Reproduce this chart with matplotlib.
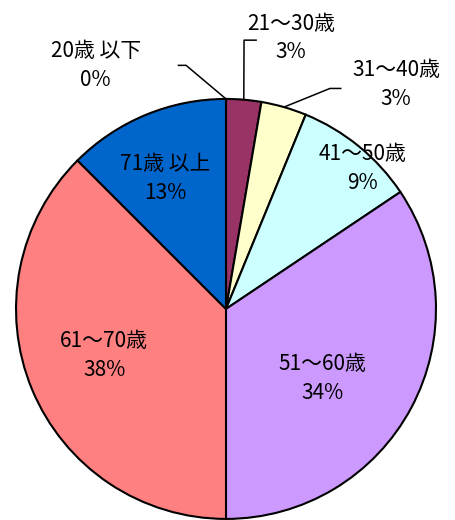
import numpy as np
import matplotlib
matplotlib.use("Agg")
import matplotlib.pyplot as plt

plt.rcParams['font.family'] = ['Noto Sans CJK JP', 'DejaVu Sans']

labels = ["20歳 以下", "21～30歳", "31～40歳", "41～50歳", "51～60歳", "61～70歳", "71歳 以上"]
values = [0.0, 2.7, 3.5, 9.4, 34.4, 37.5, 12.5]
pct_text = ["0%", "3%", "3%", "9%", "34%", "38%", "13%"]
colors = ["#FFFFFF", "#993366", "#FFFFCC", "#CCFFFF", "#CC99FF", "#FF8080", "#0066CC"]

# label centres (data units, radius = 1) and leader elbows for the outside labels
label_pos = [(-0.62, 1.16), (0.31, 1.29), (0.81, 1.07), (0.65, 0.67),
             (0.46, -0.33), (-0.58, -0.22), (-0.29, 0.62)]
elbows = {0: [(-0.19, 1.16), (-0.23, 1.16)],
          1: [(0.086, 1.28), (0.147, 1.28)],
          2: [(0.495, 1.05), (0.55, 1.05)]}

fig = plt.figure(figsize=(4.55, 5.2), dpi=100)
ax = fig.add_axes([0.0352, 0.0019, 0.923, 0.808])

wedges, _ = ax.pie(values, colors=colors, startangle=90, counterclock=False,
                   radius=1.0, wedgeprops=dict(edgecolor="black", linewidth=1.5))

cum = np.cumsum([0] + values)
for i, (lab, pct) in enumerate(zip(labels, pct_text)):
    x, y = label_pos[i]
    ax.text(x, y, lab + "\n" + pct, ha="center", va="center", fontsize=15,
            linespacing=1.4, color="black")
    if i in elbows:
        mid = (cum[i] + cum[i + 1]) / 2
        ang = np.deg2rad(90 - mid / 100 * 360)
        sx, sy = np.cos(ang), np.sin(ang)
        pts = [(sx, sy)] + elbows[i]
        ax.plot([p[0] for p in pts], [p[1] for p in pts], color="black", lw=1.1,
                solid_capstyle="butt")

ax.set_xlim(-1.0, 1.0)
ax.set_ylim(-1.0, 1.0)
ax.set_aspect("equal")
ax.axis("off")
for art in ax.lines + ax.texts:
    art.set_clip_on(False)

fig.savefig("out.png", dpi=100)
